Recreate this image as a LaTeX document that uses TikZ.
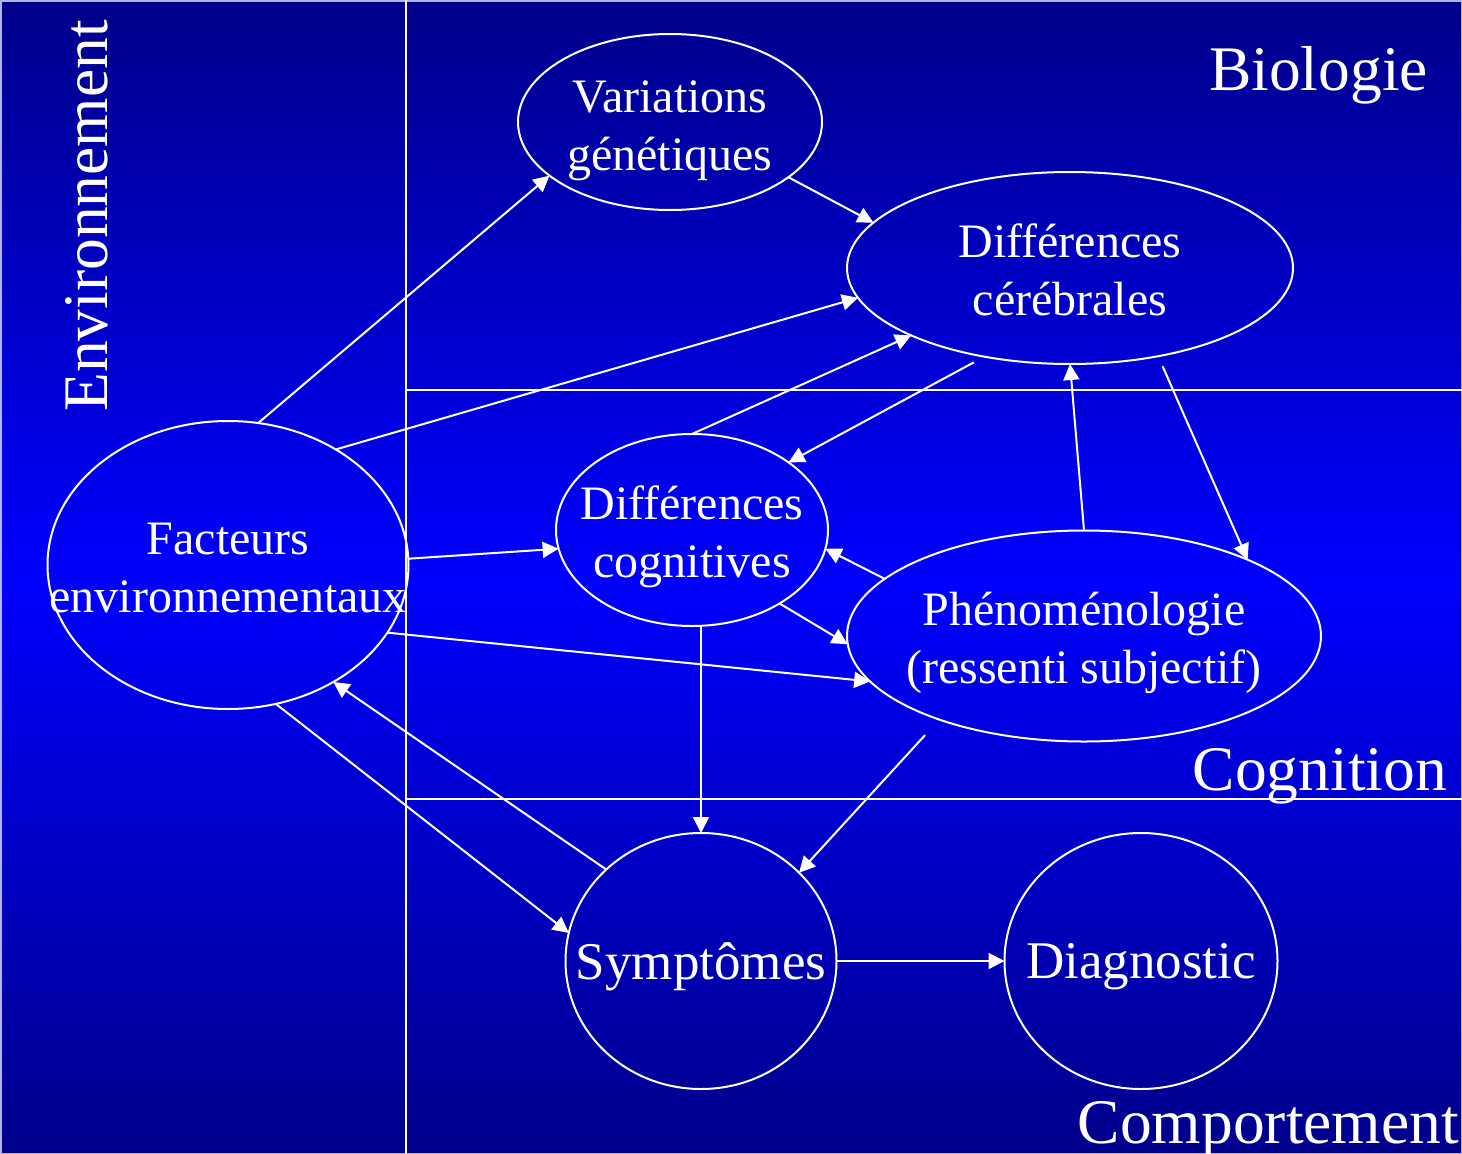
\documentclass[tikz,border=0pt]{standalone}
\usepackage{fontspec}
\setmainfont{Liberation Serif}
\usetikzlibrary{arrows.meta,shapes.geometric}
\definecolor{bgdark}{RGB}{0,0,138}
\definecolor{bgbright}{RGB}{0,0,255}
\definecolor{rim}{RGB}{180,180,225}
\begin{document}
\begin{tikzpicture}[x=1pt,y=-1pt,
  bub/.style={ellipse,draw=white,line width=2pt,inner sep=0pt,outer sep=0pt},
  lab/.style={text=white,align=center,inner sep=0pt,font=\fontsize{48}{57.6}\selectfont},
  labbig/.style={text=white,align=center,inner sep=0pt,font=\fontsize{53}{63}\selectfont},
  zone/.style={text=white,inner sep=0pt,font=\fontsize{63.5}{76}\selectfont},
  divider/.style={draw=white,line width=2pt},
  link/.style={draw=white,line width=2pt,-{Triangle[length=16pt 0 0,width=16pt 0]}}
]
\useasboundingbox (0,0) rectangle (1462,1154);
% background
\shade[top color=bgdark,bottom color=bgbright] (0,0) rectangle (1462,578);
\shade[top color=bgbright,bottom color=bgdark] (0,577) rectangle (1462,1154);
\draw[rim,line width=1.5pt] (0.75,0.75) rectangle (1461.25,1153.25);
% dividers
\draw[divider] (406,0) -- (406,1154);
\draw[divider] (406,390) -- (1462,390);
\draw[divider] (406,799) -- (1462,799);
% zone titles
\node[zone,anchor=base east] (tbio) at (1428,90) {Biologie};
\node[zone,anchor=base east] (tcog) at (1447,790) {Cognition};
\node[zone,anchor=base east] (tcomp) at (1459,1143) {Comportement};
\node[zone,rotate=90] (tenv) at (86.5,216) {Environnement};
% nodes
\node[bub,minimum width=304pt,minimum height=176pt,label={[lab,yshift=-9pt]center:Variations\\génétiques}] (vg) at (670,122) {};
\node[bub,minimum width=446pt,minimum height=192pt,label={[lab,yshift=-2pt]center:Différences\\cérébrales}] (dce) at (1070,268) {};
\node[bub,minimum width=361pt,minimum height=288pt,label={[lab,yshift=-3pt]center:Facteurs\\environnementaux}] (fe) at (228,565) {};
\node[bub,minimum width=272pt,minimum height=192pt,label={[lab,yshift=-7pt]center:Différences\\cognitives}] (dco) at (692,530) {};
\node[bub,minimum width=474pt,minimum height=211pt,label={[lab,yshift=-7pt]center:Phénoménologie\\(ressenti subjectif)}] (ph) at (1084,636) {};
\node[bub,minimum width=271pt,minimum height=256pt,label={[labbig,yshift=-6pt]center:Symptômes}] (sy) at (701,961) {};
\node[bub,minimum width=273pt,minimum height=256pt,label={[labbig,yshift=-6pt]center:Diagnostic}] (dg) at (1141,961) {};
% connectors
\draw[link] (fe.78) -- (vg.204);
\draw[link] (fe.47) -- (dce.188);
\draw[link] (fe.2) -- (dco.188);
\draw[link] (fe.-23) -- (ph.192);
\draw[link] (sy.136) -- (fe.-48);
\draw[link] (fe.-71) -- (sy.168);
\draw[link] (vg.-25) -- (dce.167);
\draw[link] (dco.north) -- (dce.203);
\draw[link,shorten <=12pt] (dce.226) -- (dco.35);
\draw[link] (ph.north) -- (dce.south);
\draw[link,shorten <=11pt] (dce.-45) -- (ph.25);
\draw[link] (ph.164) -- (dco.-8);
\draw[link] (dco.-40) -- (ph.182);
\draw[link] (sy.north |- dco.south) -- (sy.north);
\draw[link,shorten <=21pt] (ph.210) -- (sy.42);
\draw[link] (sy.east) -- (dg.west);
\end{tikzpicture}
\end{document}
